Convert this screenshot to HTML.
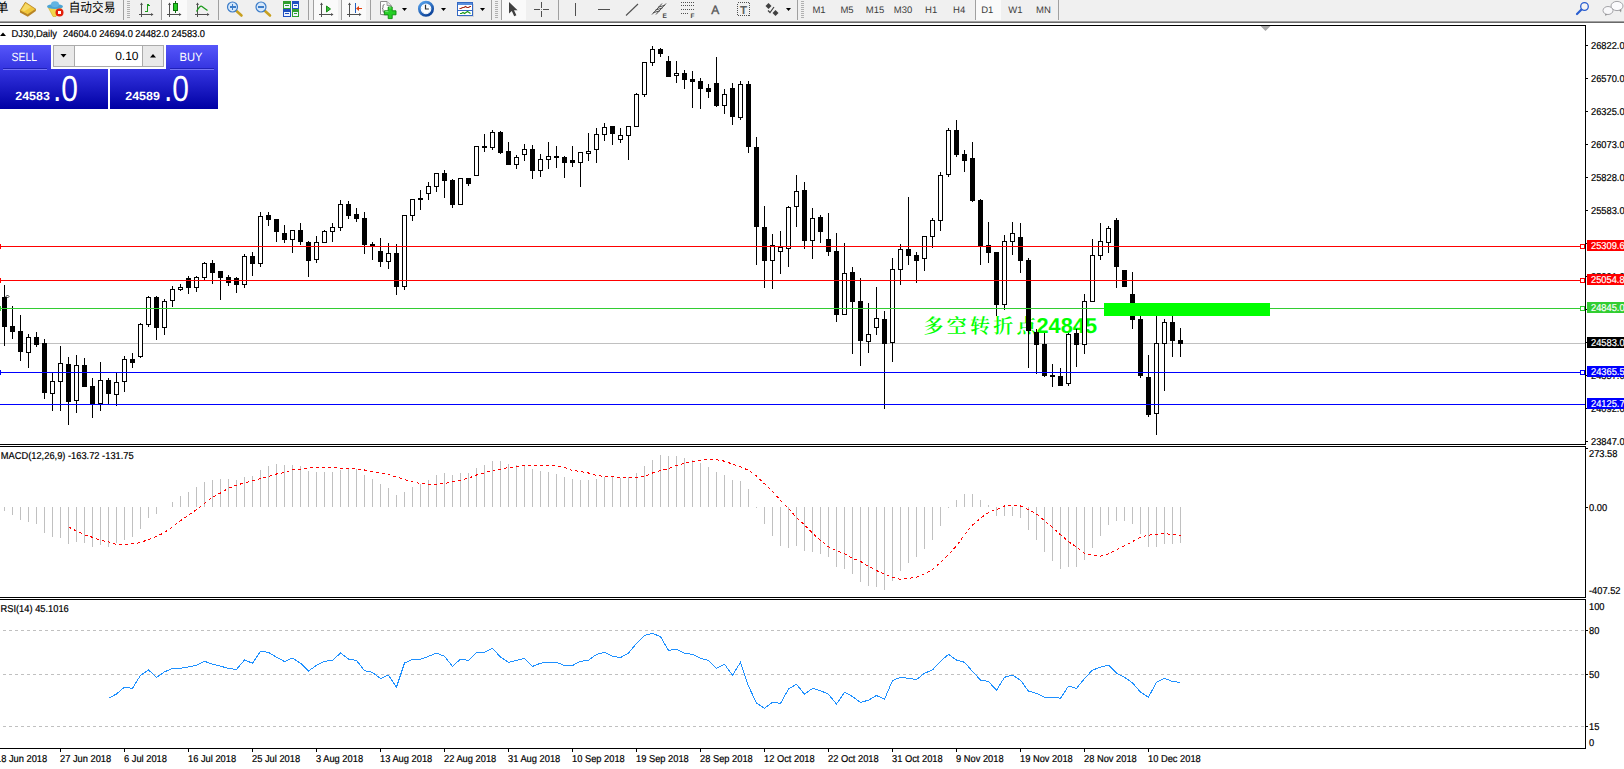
<!DOCTYPE html>
<html><head><meta charset="utf-8"><title>DJ30,Daily</title>
<style>
html,body{margin:0;padding:0;background:#fff;overflow:hidden}
body{width:1624px;height:769px;position:relative}
rect{shape-rendering:crispEdges}
text{text-rendering:geometricPrecision}
svg{position:absolute;left:0;top:0;display:block;font-family:"Liberation Sans",sans-serif}
</style></head><body>
<svg width="1624" height="769" viewBox="0 0 1624 769">
<rect x="0" y="0" width="1624" height="769" fill="#fff"/>
<g id="objtext">
<text x="923.5" y="333" font-size="21.5" fill="#00ff00" font-weight="bold" style="font-family:'Liberation Sans','Noto Serif CJK SC',serif"><tspan font-size="20" font-weight="600" style="font-family:'Noto Serif CJK SC',serif" textLength="113" lengthAdjust="spacing">多空转折点</tspan><tspan x="1036.5" textLength="60.5" lengthAdjust="spacingAndGlyphs">24845</tspan></text>
</g>
<rect x="0" y="343" width="1585" height="1" fill="#c0c0c0"/>
<g id="candles">
<rect x="4" y="285" width="1" height="61" fill="#000"/>
<rect x="2" y="297" width="5" height="30" fill="#000"/>
<rect x="12" y="306" width="1" height="33" fill="#000"/>
<rect x="10" y="326" width="5" height="6" fill="#000"/>
<rect x="20" y="315" width="1" height="46" fill="#000"/>
<rect x="18" y="331" width="5" height="21" fill="#000"/>
<rect x="28" y="334" width="1" height="34" fill="#000"/>
<rect x="26" y="337" width="5" height="16" fill="#000"/>
<rect x="27" y="338" width="3" height="14" fill="#fff"/>
<rect x="36" y="332" width="1" height="15" fill="#000"/>
<rect x="34" y="337" width="5" height="8" fill="#000"/>
<rect x="44" y="339" width="1" height="60" fill="#000"/>
<rect x="42" y="343" width="5" height="50" fill="#000"/>
<rect x="52" y="373" width="1" height="38" fill="#000"/>
<rect x="50" y="381" width="5" height="13" fill="#000"/>
<rect x="51" y="382" width="3" height="11" fill="#fff"/>
<rect x="60" y="346" width="1" height="65" fill="#000"/>
<rect x="58" y="363" width="5" height="19" fill="#000"/>
<rect x="59" y="364" width="3" height="17" fill="#fff"/>
<rect x="68" y="357" width="1" height="68" fill="#000"/>
<rect x="66" y="364" width="5" height="38" fill="#000"/>
<rect x="76" y="355" width="1" height="58" fill="#000"/>
<rect x="74" y="365" width="5" height="36" fill="#000"/>
<rect x="75" y="366" width="3" height="34" fill="#fff"/>
<rect x="84" y="358" width="1" height="29" fill="#000"/>
<rect x="82" y="365" width="5" height="22" fill="#000"/>
<rect x="92" y="378" width="1" height="40" fill="#000"/>
<rect x="90" y="386" width="5" height="18" fill="#000"/>
<rect x="100" y="362" width="1" height="49" fill="#000"/>
<rect x="98" y="380" width="5" height="24" fill="#000"/>
<rect x="99" y="381" width="3" height="22" fill="#fff"/>
<rect x="108" y="378" width="1" height="26" fill="#000"/>
<rect x="106" y="380" width="5" height="14" fill="#000"/>
<rect x="116" y="373" width="1" height="33" fill="#000"/>
<rect x="114" y="382" width="5" height="13" fill="#000"/>
<rect x="115" y="383" width="3" height="11" fill="#fff"/>
<rect x="124" y="356" width="1" height="36" fill="#000"/>
<rect x="122" y="359" width="5" height="23" fill="#000"/>
<rect x="123" y="360" width="3" height="21" fill="#fff"/>
<rect x="132" y="353" width="1" height="15" fill="#000"/>
<rect x="130" y="359" width="5" height="4" fill="#000"/>
<rect x="140" y="323" width="1" height="35" fill="#000"/>
<rect x="138" y="324" width="5" height="33" fill="#000"/>
<rect x="139" y="325" width="3" height="31" fill="#fff"/>
<rect x="148" y="296" width="1" height="31" fill="#000"/>
<rect x="146" y="297" width="5" height="28" fill="#000"/>
<rect x="147" y="298" width="3" height="26" fill="#fff"/>
<rect x="156" y="296" width="1" height="44" fill="#000"/>
<rect x="154" y="297" width="5" height="31" fill="#000"/>
<rect x="164" y="299" width="1" height="36" fill="#000"/>
<rect x="162" y="301" width="5" height="27" fill="#000"/>
<rect x="163" y="302" width="3" height="25" fill="#fff"/>
<rect x="172" y="286" width="1" height="21" fill="#000"/>
<rect x="170" y="289" width="5" height="12" fill="#000"/>
<rect x="171" y="290" width="3" height="10" fill="#fff"/>
<rect x="180" y="284" width="1" height="7" fill="#000"/>
<rect x="178" y="287" width="5" height="3" fill="#000"/>
<rect x="179" y="288" width="3" height="1" fill="#fff"/>
<rect x="188" y="276" width="1" height="18" fill="#000"/>
<rect x="186" y="278" width="5" height="10" fill="#000"/>
<rect x="196" y="276" width="1" height="16" fill="#000"/>
<rect x="194" y="277" width="5" height="11" fill="#000"/>
<rect x="195" y="278" width="3" height="9" fill="#fff"/>
<rect x="204" y="262" width="1" height="18" fill="#000"/>
<rect x="202" y="263" width="5" height="15" fill="#000"/>
<rect x="203" y="264" width="3" height="13" fill="#fff"/>
<rect x="212" y="260" width="1" height="24" fill="#000"/>
<rect x="210" y="263" width="5" height="10" fill="#000"/>
<rect x="220" y="271" width="1" height="29" fill="#000"/>
<rect x="218" y="271" width="5" height="7" fill="#000"/>
<rect x="228" y="275" width="1" height="11" fill="#000"/>
<rect x="226" y="277" width="5" height="6" fill="#000"/>
<rect x="236" y="277" width="1" height="16" fill="#000"/>
<rect x="234" y="278" width="5" height="7" fill="#000"/>
<rect x="244" y="254" width="1" height="34" fill="#000"/>
<rect x="242" y="256" width="5" height="29" fill="#000"/>
<rect x="243" y="257" width="3" height="27" fill="#fff"/>
<rect x="252" y="252" width="1" height="24" fill="#000"/>
<rect x="250" y="256" width="5" height="8" fill="#000"/>
<rect x="260" y="212" width="1" height="55" fill="#000"/>
<rect x="258" y="216" width="5" height="48" fill="#000"/>
<rect x="259" y="217" width="3" height="46" fill="#fff"/>
<rect x="268" y="212" width="1" height="14" fill="#000"/>
<rect x="266" y="215" width="5" height="5" fill="#000"/>
<rect x="276" y="219" width="1" height="23" fill="#000"/>
<rect x="274" y="219" width="5" height="13" fill="#000"/>
<rect x="284" y="225" width="1" height="18" fill="#000"/>
<rect x="282" y="233" width="5" height="7" fill="#000"/>
<rect x="292" y="230" width="1" height="23" fill="#000"/>
<rect x="290" y="230" width="5" height="10" fill="#000"/>
<rect x="291" y="231" width="3" height="8" fill="#fff"/>
<rect x="300" y="223" width="1" height="22" fill="#000"/>
<rect x="298" y="230" width="5" height="12" fill="#000"/>
<rect x="308" y="241" width="1" height="36" fill="#000"/>
<rect x="306" y="242" width="5" height="19" fill="#000"/>
<rect x="316" y="236" width="1" height="27" fill="#000"/>
<rect x="314" y="242" width="5" height="18" fill="#000"/>
<rect x="315" y="243" width="3" height="16" fill="#fff"/>
<rect x="324" y="230" width="1" height="13" fill="#000"/>
<rect x="322" y="231" width="5" height="12" fill="#000"/>
<rect x="323" y="232" width="3" height="10" fill="#fff"/>
<rect x="332" y="223" width="1" height="19" fill="#000"/>
<rect x="330" y="227" width="5" height="5" fill="#000"/>
<rect x="331" y="228" width="3" height="3" fill="#fff"/>
<rect x="340" y="200" width="1" height="31" fill="#000"/>
<rect x="338" y="204" width="5" height="24" fill="#000"/>
<rect x="339" y="205" width="3" height="22" fill="#fff"/>
<rect x="348" y="201" width="1" height="18" fill="#000"/>
<rect x="346" y="204" width="5" height="12" fill="#000"/>
<rect x="356" y="208" width="1" height="14" fill="#000"/>
<rect x="354" y="214" width="5" height="5" fill="#000"/>
<rect x="364" y="212" width="1" height="42" fill="#000"/>
<rect x="362" y="218" width="5" height="27" fill="#000"/>
<rect x="372" y="242" width="1" height="18" fill="#000"/>
<rect x="370" y="244" width="5" height="2" fill="#000"/>
<rect x="380" y="238" width="1" height="29" fill="#000"/>
<rect x="378" y="251" width="5" height="11" fill="#000"/>
<rect x="388" y="243" width="1" height="26" fill="#000"/>
<rect x="386" y="253" width="5" height="9" fill="#000"/>
<rect x="387" y="254" width="3" height="7" fill="#fff"/>
<rect x="396" y="244" width="1" height="51" fill="#000"/>
<rect x="394" y="253" width="5" height="34" fill="#000"/>
<rect x="404" y="215" width="1" height="75" fill="#000"/>
<rect x="402" y="215" width="5" height="72" fill="#000"/>
<rect x="403" y="216" width="3" height="70" fill="#fff"/>
<rect x="412" y="199" width="1" height="22" fill="#000"/>
<rect x="410" y="199" width="5" height="17" fill="#000"/>
<rect x="411" y="200" width="3" height="15" fill="#fff"/>
<rect x="420" y="190" width="1" height="20" fill="#000"/>
<rect x="418" y="198" width="5" height="2" fill="#000"/>
<rect x="428" y="182" width="1" height="18" fill="#000"/>
<rect x="426" y="186" width="5" height="8" fill="#000"/>
<rect x="427" y="187" width="3" height="6" fill="#fff"/>
<rect x="436" y="173" width="1" height="19" fill="#000"/>
<rect x="434" y="173" width="5" height="14" fill="#000"/>
<rect x="435" y="174" width="3" height="12" fill="#fff"/>
<rect x="444" y="170" width="1" height="28" fill="#000"/>
<rect x="442" y="173" width="5" height="8" fill="#000"/>
<rect x="452" y="179" width="1" height="29" fill="#000"/>
<rect x="450" y="180" width="5" height="25" fill="#000"/>
<rect x="460" y="178" width="1" height="27" fill="#000"/>
<rect x="458" y="178" width="5" height="27" fill="#000"/>
<rect x="459" y="179" width="3" height="25" fill="#fff"/>
<rect x="468" y="178" width="1" height="8" fill="#000"/>
<rect x="466" y="178" width="5" height="6" fill="#000"/>
<rect x="476" y="146" width="1" height="30" fill="#000"/>
<rect x="474" y="146" width="5" height="30" fill="#000"/>
<rect x="475" y="147" width="3" height="28" fill="#fff"/>
<rect x="484" y="134" width="1" height="18" fill="#000"/>
<rect x="482" y="146" width="5" height="2" fill="#000"/>
<rect x="492" y="130" width="1" height="20" fill="#000"/>
<rect x="490" y="132" width="5" height="16" fill="#000"/>
<rect x="491" y="133" width="3" height="14" fill="#fff"/>
<rect x="500" y="131" width="1" height="23" fill="#000"/>
<rect x="498" y="132" width="5" height="21" fill="#000"/>
<rect x="508" y="142" width="1" height="23" fill="#000"/>
<rect x="506" y="151" width="5" height="14" fill="#000"/>
<rect x="516" y="155" width="1" height="14" fill="#000"/>
<rect x="514" y="157" width="5" height="8" fill="#000"/>
<rect x="515" y="158" width="3" height="6" fill="#fff"/>
<rect x="524" y="144" width="1" height="17" fill="#000"/>
<rect x="522" y="149" width="5" height="6" fill="#000"/>
<rect x="523" y="150" width="3" height="4" fill="#fff"/>
<rect x="532" y="145" width="1" height="34" fill="#000"/>
<rect x="530" y="149" width="5" height="22" fill="#000"/>
<rect x="540" y="154" width="1" height="23" fill="#000"/>
<rect x="538" y="159" width="5" height="12" fill="#000"/>
<rect x="539" y="160" width="3" height="10" fill="#fff"/>
<rect x="548" y="142" width="1" height="27" fill="#000"/>
<rect x="546" y="156" width="5" height="4" fill="#000"/>
<rect x="547" y="157" width="3" height="2" fill="#fff"/>
<rect x="556" y="146" width="1" height="22" fill="#000"/>
<rect x="554" y="156" width="5" height="2" fill="#000"/>
<rect x="564" y="156" width="1" height="22" fill="#000"/>
<rect x="562" y="157" width="5" height="6" fill="#000"/>
<rect x="572" y="146" width="1" height="21" fill="#000"/>
<rect x="570" y="160" width="5" height="3" fill="#000"/>
<rect x="580" y="152" width="1" height="35" fill="#000"/>
<rect x="578" y="152" width="5" height="11" fill="#000"/>
<rect x="579" y="153" width="3" height="9" fill="#fff"/>
<rect x="588" y="133" width="1" height="28" fill="#000"/>
<rect x="586" y="151" width="5" height="3" fill="#000"/>
<rect x="587" y="152" width="3" height="1" fill="#fff"/>
<rect x="596" y="128" width="1" height="35" fill="#000"/>
<rect x="594" y="134" width="5" height="16" fill="#000"/>
<rect x="595" y="135" width="3" height="14" fill="#fff"/>
<rect x="604" y="123" width="1" height="18" fill="#000"/>
<rect x="602" y="127" width="5" height="8" fill="#000"/>
<rect x="603" y="128" width="3" height="6" fill="#fff"/>
<rect x="612" y="126" width="1" height="19" fill="#000"/>
<rect x="610" y="126" width="5" height="8" fill="#000"/>
<rect x="620" y="128" width="1" height="15" fill="#000"/>
<rect x="618" y="135" width="5" height="5" fill="#000"/>
<rect x="619" y="136" width="3" height="3" fill="#fff"/>
<rect x="628" y="126" width="1" height="34" fill="#000"/>
<rect x="626" y="126" width="5" height="10" fill="#000"/>
<rect x="627" y="127" width="3" height="8" fill="#fff"/>
<rect x="636" y="93" width="1" height="34" fill="#000"/>
<rect x="634" y="94" width="5" height="33" fill="#000"/>
<rect x="635" y="95" width="3" height="31" fill="#fff"/>
<rect x="644" y="62" width="1" height="35" fill="#000"/>
<rect x="642" y="62" width="5" height="33" fill="#000"/>
<rect x="643" y="63" width="3" height="31" fill="#fff"/>
<rect x="652" y="46" width="1" height="20" fill="#000"/>
<rect x="650" y="49" width="5" height="14" fill="#000"/>
<rect x="651" y="50" width="3" height="12" fill="#fff"/>
<rect x="660" y="48" width="1" height="9" fill="#000"/>
<rect x="658" y="49" width="5" height="5" fill="#000"/>
<rect x="668" y="56" width="1" height="21" fill="#000"/>
<rect x="666" y="61" width="5" height="16" fill="#000"/>
<rect x="676" y="61" width="1" height="22" fill="#000"/>
<rect x="674" y="73" width="5" height="3" fill="#000"/>
<rect x="675" y="74" width="3" height="1" fill="#fff"/>
<rect x="684" y="70" width="1" height="19" fill="#000"/>
<rect x="682" y="73" width="5" height="7" fill="#000"/>
<rect x="692" y="71" width="1" height="37" fill="#000"/>
<rect x="690" y="79" width="5" height="3" fill="#000"/>
<rect x="700" y="78" width="1" height="31" fill="#000"/>
<rect x="698" y="81" width="5" height="8" fill="#000"/>
<rect x="708" y="84" width="1" height="14" fill="#000"/>
<rect x="706" y="88" width="5" height="4" fill="#000"/>
<rect x="716" y="57" width="1" height="50" fill="#000"/>
<rect x="714" y="83" width="5" height="23" fill="#000"/>
<rect x="724" y="89" width="1" height="25" fill="#000"/>
<rect x="722" y="94" width="5" height="12" fill="#000"/>
<rect x="723" y="95" width="3" height="10" fill="#fff"/>
<rect x="732" y="83" width="1" height="42" fill="#000"/>
<rect x="730" y="88" width="5" height="29" fill="#000"/>
<rect x="740" y="81" width="1" height="39" fill="#000"/>
<rect x="738" y="84" width="5" height="34" fill="#000"/>
<rect x="739" y="85" width="3" height="32" fill="#fff"/>
<rect x="748" y="81" width="1" height="72" fill="#000"/>
<rect x="746" y="84" width="5" height="63" fill="#000"/>
<rect x="756" y="137" width="1" height="128" fill="#000"/>
<rect x="754" y="147" width="5" height="80" fill="#000"/>
<rect x="764" y="206" width="1" height="82" fill="#000"/>
<rect x="762" y="227" width="5" height="34" fill="#000"/>
<rect x="772" y="234" width="1" height="55" fill="#000"/>
<rect x="770" y="245" width="5" height="16" fill="#000"/>
<rect x="771" y="246" width="3" height="14" fill="#fff"/>
<rect x="780" y="231" width="1" height="43" fill="#000"/>
<rect x="778" y="247" width="5" height="5" fill="#000"/>
<rect x="779" y="248" width="3" height="3" fill="#fff"/>
<rect x="788" y="206" width="1" height="61" fill="#000"/>
<rect x="786" y="207" width="5" height="42" fill="#000"/>
<rect x="787" y="208" width="3" height="40" fill="#fff"/>
<rect x="796" y="175" width="1" height="52" fill="#000"/>
<rect x="794" y="191" width="5" height="16" fill="#000"/>
<rect x="795" y="192" width="3" height="14" fill="#fff"/>
<rect x="804" y="182" width="1" height="67" fill="#000"/>
<rect x="802" y="190" width="5" height="51" fill="#000"/>
<rect x="812" y="208" width="1" height="51" fill="#000"/>
<rect x="810" y="218" width="5" height="23" fill="#000"/>
<rect x="811" y="219" width="3" height="21" fill="#fff"/>
<rect x="820" y="215" width="1" height="28" fill="#000"/>
<rect x="818" y="217" width="5" height="15" fill="#000"/>
<rect x="828" y="213" width="1" height="43" fill="#000"/>
<rect x="826" y="239" width="5" height="13" fill="#000"/>
<rect x="836" y="233" width="1" height="89" fill="#000"/>
<rect x="834" y="251" width="5" height="64" fill="#000"/>
<rect x="844" y="243" width="1" height="72" fill="#000"/>
<rect x="842" y="273" width="5" height="42" fill="#000"/>
<rect x="843" y="274" width="3" height="40" fill="#fff"/>
<rect x="852" y="267" width="1" height="87" fill="#000"/>
<rect x="850" y="272" width="5" height="30" fill="#000"/>
<rect x="860" y="278" width="1" height="88" fill="#000"/>
<rect x="858" y="301" width="5" height="40" fill="#000"/>
<rect x="868" y="303" width="1" height="50" fill="#000"/>
<rect x="866" y="334" width="5" height="8" fill="#000"/>
<rect x="867" y="335" width="3" height="6" fill="#fff"/>
<rect x="876" y="287" width="1" height="48" fill="#000"/>
<rect x="874" y="318" width="5" height="10" fill="#000"/>
<rect x="875" y="319" width="3" height="8" fill="#fff"/>
<rect x="884" y="311" width="1" height="98" fill="#000"/>
<rect x="882" y="319" width="5" height="25" fill="#000"/>
<rect x="892" y="258" width="1" height="104" fill="#000"/>
<rect x="890" y="269" width="5" height="74" fill="#000"/>
<rect x="891" y="270" width="3" height="72" fill="#fff"/>
<rect x="900" y="244" width="1" height="41" fill="#000"/>
<rect x="898" y="249" width="5" height="21" fill="#000"/>
<rect x="899" y="250" width="3" height="19" fill="#fff"/>
<rect x="908" y="197" width="1" height="68" fill="#000"/>
<rect x="906" y="249" width="5" height="7" fill="#000"/>
<rect x="916" y="252" width="1" height="31" fill="#000"/>
<rect x="914" y="255" width="5" height="6" fill="#000"/>
<rect x="924" y="236" width="1" height="35" fill="#000"/>
<rect x="922" y="236" width="5" height="23" fill="#000"/>
<rect x="923" y="237" width="3" height="21" fill="#fff"/>
<rect x="932" y="218" width="1" height="30" fill="#000"/>
<rect x="930" y="220" width="5" height="17" fill="#000"/>
<rect x="931" y="221" width="3" height="15" fill="#fff"/>
<rect x="940" y="172" width="1" height="59" fill="#000"/>
<rect x="938" y="175" width="5" height="46" fill="#000"/>
<rect x="939" y="176" width="3" height="44" fill="#fff"/>
<rect x="948" y="128" width="1" height="49" fill="#000"/>
<rect x="946" y="130" width="5" height="45" fill="#000"/>
<rect x="947" y="131" width="3" height="43" fill="#fff"/>
<rect x="956" y="120" width="1" height="37" fill="#000"/>
<rect x="954" y="130" width="5" height="25" fill="#000"/>
<rect x="964" y="150" width="1" height="22" fill="#000"/>
<rect x="962" y="154" width="5" height="7" fill="#000"/>
<rect x="972" y="142" width="1" height="60" fill="#000"/>
<rect x="970" y="158" width="5" height="43" fill="#000"/>
<rect x="980" y="199" width="1" height="66" fill="#000"/>
<rect x="978" y="200" width="5" height="47" fill="#000"/>
<rect x="988" y="222" width="1" height="41" fill="#000"/>
<rect x="986" y="245" width="5" height="8" fill="#000"/>
<rect x="996" y="252" width="1" height="64" fill="#000"/>
<rect x="994" y="252" width="5" height="53" fill="#000"/>
<rect x="1004" y="235" width="1" height="75" fill="#000"/>
<rect x="1002" y="241" width="5" height="64" fill="#000"/>
<rect x="1003" y="242" width="3" height="62" fill="#fff"/>
<rect x="1012" y="222" width="1" height="33" fill="#000"/>
<rect x="1010" y="233" width="5" height="9" fill="#000"/>
<rect x="1011" y="234" width="3" height="7" fill="#fff"/>
<rect x="1020" y="223" width="1" height="50" fill="#000"/>
<rect x="1018" y="237" width="5" height="24" fill="#000"/>
<rect x="1028" y="258" width="1" height="110" fill="#000"/>
<rect x="1026" y="260" width="5" height="71" fill="#000"/>
<rect x="1036" y="329" width="1" height="45" fill="#000"/>
<rect x="1034" y="332" width="5" height="13" fill="#000"/>
<rect x="1044" y="333" width="1" height="44" fill="#000"/>
<rect x="1042" y="344" width="5" height="32" fill="#000"/>
<rect x="1052" y="364" width="1" height="23" fill="#000"/>
<rect x="1050" y="375" width="5" height="2" fill="#000"/>
<rect x="1060" y="368" width="1" height="18" fill="#000"/>
<rect x="1058" y="376" width="5" height="10" fill="#000"/>
<rect x="1068" y="333" width="1" height="53" fill="#000"/>
<rect x="1066" y="334" width="5" height="50" fill="#000"/>
<rect x="1067" y="335" width="3" height="48" fill="#fff"/>
<rect x="1076" y="329" width="1" height="38" fill="#000"/>
<rect x="1074" y="333" width="5" height="12" fill="#000"/>
<rect x="1084" y="294" width="1" height="60" fill="#000"/>
<rect x="1082" y="301" width="5" height="44" fill="#000"/>
<rect x="1083" y="302" width="3" height="42" fill="#fff"/>
<rect x="1092" y="239" width="1" height="63" fill="#000"/>
<rect x="1090" y="255" width="5" height="47" fill="#000"/>
<rect x="1091" y="256" width="3" height="45" fill="#fff"/>
<rect x="1100" y="223" width="1" height="37" fill="#000"/>
<rect x="1098" y="241" width="5" height="15" fill="#000"/>
<rect x="1099" y="242" width="3" height="13" fill="#fff"/>
<rect x="1108" y="226" width="1" height="27" fill="#000"/>
<rect x="1106" y="228" width="5" height="15" fill="#000"/>
<rect x="1107" y="229" width="3" height="13" fill="#fff"/>
<rect x="1116" y="218" width="1" height="70" fill="#000"/>
<rect x="1114" y="220" width="5" height="47" fill="#000"/>
<rect x="1124" y="270" width="1" height="17" fill="#000"/>
<rect x="1122" y="270" width="5" height="17" fill="#000"/>
<rect x="1132" y="272" width="1" height="57" fill="#000"/>
<rect x="1130" y="294" width="5" height="26" fill="#000"/>
<rect x="1140" y="316" width="1" height="62" fill="#000"/>
<rect x="1138" y="319" width="5" height="57" fill="#000"/>
<rect x="1148" y="355" width="1" height="62" fill="#000"/>
<rect x="1146" y="377" width="5" height="38" fill="#000"/>
<rect x="1156" y="315" width="1" height="120" fill="#000"/>
<rect x="1154" y="343" width="5" height="71" fill="#000"/>
<rect x="1155" y="344" width="3" height="69" fill="#fff"/>
<rect x="1164" y="319" width="1" height="72" fill="#000"/>
<rect x="1162" y="322" width="5" height="22" fill="#000"/>
<rect x="1163" y="323" width="3" height="20" fill="#fff"/>
<rect x="1172" y="315" width="1" height="42" fill="#000"/>
<rect x="1170" y="322" width="5" height="19" fill="#000"/>
<rect x="1180" y="328" width="1" height="29" fill="#000"/>
<rect x="1178" y="340" width="5" height="4" fill="#000"/>
</g>
<rect x="0" y="246" width="1585" height="1" fill="#ff0000"/>
<rect x="1580" y="244" width="5" height="5" fill="#ff0000"/>
<rect x="1581" y="245" width="3" height="3" fill="#fff"/>
<rect x="0" y="244" width="1" height="5" fill="#ff0000"/>
<rect x="0" y="280" width="1585" height="1" fill="#ff0000"/>
<rect x="1580" y="278" width="5" height="5" fill="#ff0000"/>
<rect x="1581" y="279" width="3" height="3" fill="#fff"/>
<rect x="0" y="278" width="1" height="5" fill="#ff0000"/>
<rect x="0" y="308" width="1585" height="1" fill="#32cd32"/>
<rect x="1580" y="306" width="5" height="5" fill="#32cd32"/>
<rect x="1581" y="307" width="3" height="3" fill="#fff"/>
<rect x="0" y="306" width="1" height="5" fill="#32cd32"/>
<rect x="0" y="372" width="1585" height="1" fill="#0000ff"/>
<rect x="1580" y="370" width="5" height="5" fill="#0000ff"/>
<rect x="1581" y="371" width="3" height="3" fill="#fff"/>
<rect x="0" y="370" width="1" height="5" fill="#0000ff"/>
<rect x="0" y="404" width="1585" height="1" fill="#0000ff"/>
<polygon points="6,296.5 7.5,295 9,296.5 7.5,298" fill="#fff" stroke="#000" stroke-width="0.8"/>
<rect x="1104" y="303" width="166" height="13" fill="#00ff00"/>
<polygon points="1260.5,26 1270.5,26 1265.5,31" fill="#a9a9a9"/>
<rect x="0" y="25" width="1586" height="1" fill="#000"/>
<rect x="1585" y="25" width="1" height="420" fill="#000"/>
<rect x="0" y="444" width="1586" height="1" fill="#000"/>
<rect x="0" y="446" width="1586" height="1" fill="#000"/>
<rect x="1585" y="446" width="1" height="152" fill="#000"/>
<rect x="0" y="597" width="1586" height="1" fill="#000"/>
<rect x="0" y="599" width="1586" height="1" fill="#000"/>
<rect x="1585" y="599" width="1" height="150" fill="#000"/>
<rect x="0" y="748" width="1586" height="1" fill="#000"/>
<rect x="1586" y="45" width="2" height="1" fill="#000"/>
<text transform="translate(1591 49) scale(.93 1)" font-size="10" fill="#000" stroke="#000" stroke-width="0.2" text-anchor="start" font-weight="normal">26822.0</text>
<rect x="1586" y="78" width="2" height="1" fill="#000"/>
<text transform="translate(1591 82) scale(.93 1)" font-size="10" fill="#000" stroke="#000" stroke-width="0.2" text-anchor="start" font-weight="normal">26570.0</text>
<rect x="1586" y="111" width="2" height="1" fill="#000"/>
<text transform="translate(1591 115) scale(.93 1)" font-size="10" fill="#000" stroke="#000" stroke-width="0.2" text-anchor="start" font-weight="normal">26325.0</text>
<rect x="1586" y="144" width="2" height="1" fill="#000"/>
<text transform="translate(1591 148) scale(.93 1)" font-size="10" fill="#000" stroke="#000" stroke-width="0.2" text-anchor="start" font-weight="normal">26073.0</text>
<rect x="1586" y="177" width="2" height="1" fill="#000"/>
<text transform="translate(1591 181) scale(.93 1)" font-size="10" fill="#000" stroke="#000" stroke-width="0.2" text-anchor="start" font-weight="normal">25828.0</text>
<rect x="1586" y="210" width="2" height="1" fill="#000"/>
<text transform="translate(1591 214) scale(.93 1)" font-size="10" fill="#000" stroke="#000" stroke-width="0.2" text-anchor="start" font-weight="normal">25583.0</text>
<rect x="1586" y="243" width="2" height="1" fill="#000"/>
<rect x="1586" y="276" width="2" height="1" fill="#000"/>
<text transform="translate(1591 280) scale(.93 1)" font-size="10" fill="#000" stroke="#000" stroke-width="0.2" text-anchor="start" font-weight="normal">25091.0</text>
<rect x="1586" y="309" width="2" height="1" fill="#000"/>
<rect x="1586" y="342" width="2" height="1" fill="#000"/>
<rect x="1586" y="375" width="2" height="1" fill="#000"/>
<text transform="translate(1591 379) scale(.93 1)" font-size="10" fill="#000" stroke="#000" stroke-width="0.2" text-anchor="start" font-weight="normal">24357.0</text>
<rect x="1586" y="408" width="2" height="1" fill="#000"/>
<text transform="translate(1591 412) scale(.93 1)" font-size="10" fill="#000" stroke="#000" stroke-width="0.2" text-anchor="start" font-weight="normal">24092.0</text>
<rect x="1586" y="441" width="2" height="1" fill="#000"/>
<text transform="translate(1591 445) scale(.93 1)" font-size="10" fill="#000" stroke="#000" stroke-width="0.2" text-anchor="start" font-weight="normal">23847.0</text>
<rect x="1587" y="240" width="37" height="11" fill="#ff0000"/>
<text transform="translate(1591 249) scale(.93 1)" font-size="10" fill="#fff" stroke="#fff" stroke-width="0.2" text-anchor="start" font-weight="normal">25309.6</text>
<rect x="1587" y="274" width="37" height="11" fill="#ff0000"/>
<text transform="translate(1591 283) scale(.93 1)" font-size="10" fill="#fff" stroke="#fff" stroke-width="0.2" text-anchor="start" font-weight="normal">25054.8</text>
<rect x="1587" y="302" width="37" height="11" fill="#32cd32"/>
<text transform="translate(1591 311) scale(.93 1)" font-size="10" fill="#fff" stroke="#fff" stroke-width="0.2" text-anchor="start" font-weight="normal">24845.0</text>
<rect x="1587" y="366" width="37" height="11" fill="#0000ff"/>
<text transform="translate(1591 375) scale(.93 1)" font-size="10" fill="#fff" stroke="#fff" stroke-width="0.2" text-anchor="start" font-weight="normal">24365.5</text>
<rect x="1587" y="398" width="37" height="11" fill="#0000ff"/>
<text transform="translate(1591 407) scale(.93 1)" font-size="10" fill="#fff" stroke="#fff" stroke-width="0.2" text-anchor="start" font-weight="normal">24125.7</text>
<rect x="1587" y="337" width="37" height="11" fill="#000"/>
<text transform="translate(1591 346) scale(.93 1)" font-size="10" fill="#fff" stroke="#fff" stroke-width="0.2" text-anchor="start" font-weight="normal">24583.0</text>
<g id="macd">
<rect x="4" y="507" width="1" height="4" fill="#c0c0c0"/>
<rect x="12" y="507" width="1" height="8" fill="#c0c0c0"/>
<rect x="20" y="507" width="1" height="13" fill="#c0c0c0"/>
<rect x="28" y="507" width="1" height="15" fill="#c0c0c0"/>
<rect x="36" y="507" width="1" height="17" fill="#c0c0c0"/>
<rect x="44" y="507" width="1" height="26" fill="#c0c0c0"/>
<rect x="52" y="507" width="1" height="30" fill="#c0c0c0"/>
<rect x="60" y="507" width="1" height="31" fill="#c0c0c0"/>
<rect x="68" y="507" width="1" height="37" fill="#c0c0c0"/>
<rect x="76" y="507" width="1" height="35" fill="#c0c0c0"/>
<rect x="84" y="507" width="1" height="36" fill="#c0c0c0"/>
<rect x="92" y="507" width="1" height="40" fill="#c0c0c0"/>
<rect x="100" y="507" width="1" height="38" fill="#c0c0c0"/>
<rect x="108" y="507" width="1" height="40" fill="#c0c0c0"/>
<rect x="116" y="507" width="1" height="36" fill="#c0c0c0"/>
<rect x="124" y="507" width="1" height="33" fill="#c0c0c0"/>
<rect x="132" y="507" width="1" height="30" fill="#c0c0c0"/>
<rect x="140" y="507" width="1" height="22" fill="#c0c0c0"/>
<rect x="148" y="507" width="1" height="11" fill="#c0c0c0"/>
<rect x="156" y="507" width="1" height="7" fill="#c0c0c0"/>
<rect x="172" y="502" width="1" height="5" fill="#c0c0c0"/>
<rect x="180" y="496" width="1" height="11" fill="#c0c0c0"/>
<rect x="188" y="492" width="1" height="15" fill="#c0c0c0"/>
<rect x="196" y="487" width="1" height="20" fill="#c0c0c0"/>
<rect x="204" y="482" width="1" height="25" fill="#c0c0c0"/>
<rect x="212" y="480" width="1" height="27" fill="#c0c0c0"/>
<rect x="220" y="479" width="1" height="28" fill="#c0c0c0"/>
<rect x="228" y="479" width="1" height="28" fill="#c0c0c0"/>
<rect x="236" y="480" width="1" height="27" fill="#c0c0c0"/>
<rect x="244" y="477" width="1" height="30" fill="#c0c0c0"/>
<rect x="252" y="476" width="1" height="31" fill="#c0c0c0"/>
<rect x="260" y="470" width="1" height="37" fill="#c0c0c0"/>
<rect x="268" y="466" width="1" height="41" fill="#c0c0c0"/>
<rect x="276" y="464" width="1" height="43" fill="#c0c0c0"/>
<rect x="284" y="465" width="1" height="42" fill="#c0c0c0"/>
<rect x="292" y="465" width="1" height="42" fill="#c0c0c0"/>
<rect x="300" y="466" width="1" height="41" fill="#c0c0c0"/>
<rect x="308" y="471" width="1" height="36" fill="#c0c0c0"/>
<rect x="316" y="472" width="1" height="35" fill="#c0c0c0"/>
<rect x="324" y="472" width="1" height="35" fill="#c0c0c0"/>
<rect x="332" y="472" width="1" height="35" fill="#c0c0c0"/>
<rect x="340" y="470" width="1" height="37" fill="#c0c0c0"/>
<rect x="348" y="469" width="1" height="38" fill="#c0c0c0"/>
<rect x="356" y="469" width="1" height="38" fill="#c0c0c0"/>
<rect x="364" y="475" width="1" height="32" fill="#c0c0c0"/>
<rect x="372" y="479" width="1" height="28" fill="#c0c0c0"/>
<rect x="380" y="484" width="1" height="23" fill="#c0c0c0"/>
<rect x="388" y="488" width="1" height="19" fill="#c0c0c0"/>
<rect x="396" y="495" width="1" height="12" fill="#c0c0c0"/>
<rect x="404" y="492" width="1" height="15" fill="#c0c0c0"/>
<rect x="412" y="487" width="1" height="20" fill="#c0c0c0"/>
<rect x="420" y="484" width="1" height="23" fill="#c0c0c0"/>
<rect x="428" y="480" width="1" height="27" fill="#c0c0c0"/>
<rect x="436" y="475" width="1" height="32" fill="#c0c0c0"/>
<rect x="444" y="473" width="1" height="34" fill="#c0c0c0"/>
<rect x="452" y="475" width="1" height="32" fill="#c0c0c0"/>
<rect x="460" y="473" width="1" height="34" fill="#c0c0c0"/>
<rect x="468" y="473" width="1" height="34" fill="#c0c0c0"/>
<rect x="476" y="468" width="1" height="39" fill="#c0c0c0"/>
<rect x="484" y="465" width="1" height="42" fill="#c0c0c0"/>
<rect x="492" y="461" width="1" height="46" fill="#c0c0c0"/>
<rect x="500" y="461" width="1" height="46" fill="#c0c0c0"/>
<rect x="508" y="464" width="1" height="43" fill="#c0c0c0"/>
<rect x="516" y="465" width="1" height="42" fill="#c0c0c0"/>
<rect x="524" y="466" width="1" height="41" fill="#c0c0c0"/>
<rect x="532" y="469" width="1" height="38" fill="#c0c0c0"/>
<rect x="540" y="471" width="1" height="36" fill="#c0c0c0"/>
<rect x="548" y="472" width="1" height="35" fill="#c0c0c0"/>
<rect x="556" y="474" width="1" height="33" fill="#c0c0c0"/>
<rect x="564" y="477" width="1" height="30" fill="#c0c0c0"/>
<rect x="572" y="479" width="1" height="28" fill="#c0c0c0"/>
<rect x="580" y="480" width="1" height="27" fill="#c0c0c0"/>
<rect x="588" y="480" width="1" height="27" fill="#c0c0c0"/>
<rect x="596" y="479" width="1" height="28" fill="#c0c0c0"/>
<rect x="604" y="477" width="1" height="30" fill="#c0c0c0"/>
<rect x="612" y="477" width="1" height="30" fill="#c0c0c0"/>
<rect x="620" y="478" width="1" height="29" fill="#c0c0c0"/>
<rect x="628" y="477" width="1" height="30" fill="#c0c0c0"/>
<rect x="636" y="473" width="1" height="34" fill="#c0c0c0"/>
<rect x="644" y="466" width="1" height="41" fill="#c0c0c0"/>
<rect x="652" y="460" width="1" height="47" fill="#c0c0c0"/>
<rect x="660" y="455" width="1" height="52" fill="#c0c0c0"/>
<rect x="668" y="456" width="1" height="51" fill="#c0c0c0"/>
<rect x="676" y="456" width="1" height="51" fill="#c0c0c0"/>
<rect x="684" y="458" width="1" height="49" fill="#c0c0c0"/>
<rect x="692" y="460" width="1" height="47" fill="#c0c0c0"/>
<rect x="700" y="463" width="1" height="44" fill="#c0c0c0"/>
<rect x="708" y="467" width="1" height="40" fill="#c0c0c0"/>
<rect x="716" y="472" width="1" height="35" fill="#c0c0c0"/>
<rect x="724" y="475" width="1" height="32" fill="#c0c0c0"/>
<rect x="732" y="480" width="1" height="27" fill="#c0c0c0"/>
<rect x="740" y="481" width="1" height="26" fill="#c0c0c0"/>
<rect x="748" y="489" width="1" height="18" fill="#c0c0c0"/>
<rect x="756" y="507" width="1" height="1" fill="#c0c0c0"/>
<rect x="764" y="507" width="1" height="17" fill="#c0c0c0"/>
<rect x="772" y="507" width="1" height="29" fill="#c0c0c0"/>
<rect x="780" y="507" width="1" height="39" fill="#c0c0c0"/>
<rect x="788" y="507" width="1" height="41" fill="#c0c0c0"/>
<rect x="796" y="507" width="1" height="39" fill="#c0c0c0"/>
<rect x="804" y="507" width="1" height="44" fill="#c0c0c0"/>
<rect x="812" y="507" width="1" height="45" fill="#c0c0c0"/>
<rect x="820" y="507" width="1" height="47" fill="#c0c0c0"/>
<rect x="828" y="507" width="1" height="50" fill="#c0c0c0"/>
<rect x="836" y="507" width="1" height="60" fill="#c0c0c0"/>
<rect x="844" y="507" width="1" height="62" fill="#c0c0c0"/>
<rect x="852" y="507" width="1" height="67" fill="#c0c0c0"/>
<rect x="860" y="507" width="1" height="75" fill="#c0c0c0"/>
<rect x="868" y="507" width="1" height="79" fill="#c0c0c0"/>
<rect x="876" y="507" width="1" height="80" fill="#c0c0c0"/>
<rect x="884" y="507" width="1" height="83" fill="#c0c0c0"/>
<rect x="892" y="507" width="1" height="74" fill="#c0c0c0"/>
<rect x="900" y="507" width="1" height="64" fill="#c0c0c0"/>
<rect x="908" y="507" width="1" height="56" fill="#c0c0c0"/>
<rect x="916" y="507" width="1" height="50" fill="#c0c0c0"/>
<rect x="924" y="507" width="1" height="42" fill="#c0c0c0"/>
<rect x="932" y="507" width="1" height="33" fill="#c0c0c0"/>
<rect x="940" y="507" width="1" height="19" fill="#c0c0c0"/>
<rect x="948" y="507" width="1" height="1" fill="#c0c0c0"/>
<rect x="956" y="500" width="1" height="7" fill="#c0c0c0"/>
<rect x="964" y="494" width="1" height="13" fill="#c0c0c0"/>
<rect x="972" y="494" width="1" height="13" fill="#c0c0c0"/>
<rect x="980" y="500" width="1" height="7" fill="#c0c0c0"/>
<rect x="988" y="505" width="1" height="2" fill="#c0c0c0"/>
<rect x="996" y="507" width="1" height="9" fill="#c0c0c0"/>
<rect x="1004" y="507" width="1" height="9" fill="#c0c0c0"/>
<rect x="1012" y="507" width="1" height="9" fill="#c0c0c0"/>
<rect x="1020" y="507" width="1" height="11" fill="#c0c0c0"/>
<rect x="1028" y="507" width="1" height="23" fill="#c0c0c0"/>
<rect x="1036" y="507" width="1" height="33" fill="#c0c0c0"/>
<rect x="1044" y="507" width="1" height="45" fill="#c0c0c0"/>
<rect x="1052" y="507" width="1" height="54" fill="#c0c0c0"/>
<rect x="1060" y="507" width="1" height="62" fill="#c0c0c0"/>
<rect x="1068" y="507" width="1" height="60" fill="#c0c0c0"/>
<rect x="1076" y="507" width="1" height="60" fill="#c0c0c0"/>
<rect x="1084" y="507" width="1" height="53" fill="#c0c0c0"/>
<rect x="1092" y="507" width="1" height="41" fill="#c0c0c0"/>
<rect x="1100" y="507" width="1" height="29" fill="#c0c0c0"/>
<rect x="1108" y="507" width="1" height="18" fill="#c0c0c0"/>
<rect x="1116" y="507" width="1" height="14" fill="#c0c0c0"/>
<rect x="1124" y="507" width="1" height="14" fill="#c0c0c0"/>
<rect x="1132" y="507" width="1" height="17" fill="#c0c0c0"/>
<rect x="1140" y="507" width="1" height="27" fill="#c0c0c0"/>
<rect x="1148" y="507" width="1" height="40" fill="#c0c0c0"/>
<rect x="1156" y="507" width="1" height="40" fill="#c0c0c0"/>
<rect x="1164" y="507" width="1" height="37" fill="#c0c0c0"/>
<rect x="1172" y="507" width="1" height="37" fill="#c0c0c0"/>
<rect x="1180" y="507" width="1" height="36" fill="#c0c0c0"/>
<polyline points="68.5,526.9 76.5,531.1 84.5,534.8 92.5,537.3 100.5,540.5 108.5,541.7 116.5,544.4 124.5,544.4 132.5,543.9 140.5,542.5 148.5,539.5 156.5,536.6 164.5,532.4 172.5,526.7 180.5,520.8 188.5,515.1 196.5,509.7 204.5,503.5 212.5,497.1 220.5,493.0 228.5,488.3 236.5,485.1 244.5,482.9 252.5,480.6 260.5,478.7 268.5,476.5 276.5,474.0 284.5,472.5 292.5,470.0 300.5,469.1 308.5,468.1 316.5,467.6 324.5,467.6 332.5,467.6 340.5,468.3 348.5,468.6 356.5,469.1 364.5,470.0 372.5,471.5 380.5,473.3 388.5,474.5 396.5,476.9 404.5,479.4 412.5,481.9 420.5,483.6 428.5,484.3 436.5,484.3 444.5,483.6 452.5,481.9 460.5,480.1 468.5,478.2 476.5,475.0 484.5,472.8 492.5,470.5 500.5,469.1 508.5,467.6 516.5,466.6 524.5,465.6 532.5,465.4 540.5,465.4 548.5,465.4 556.5,466.1 564.5,467.6 572.5,470.5 580.5,471.5 588.5,473.0 596.5,475.5 604.5,476.5 612.5,476.7 620.5,477.4 628.5,477.4 636.5,477.4 644.5,476.5 652.5,473.0 660.5,470.5 668.5,468.6 676.5,465.6 684.5,463.2 692.5,461.7 700.5,460.2 708.5,459.5 716.5,459.7 724.5,461.2 732.5,464.1 740.5,466.6 748.5,470.5 756.5,476.0 764.5,483.8 772.5,491.2 780.5,500.3 788.5,508.5 796.5,517.6 804.5,525.0 812.5,533.1 820.5,540.5 828.5,546.7 836.5,550.8 844.5,553.8 852.5,558.2 860.5,561.4 868.5,566.4 876.5,570.5 884.5,574.2 892.5,577.4 900.5,579.4 908.5,578.4 916.5,577.2 924.5,574.2 932.5,569.3 940.5,562.7 948.5,554.5 956.5,545.9 964.5,534.8 972.5,525.0 980.5,518.3 988.5,512.4 996.5,509.5 1004.5,506.0 1012.5,505.3 1020.5,506.0 1028.5,509.5 1036.5,513.9 1044.5,520.8 1052.5,527.4 1060.5,534.8 1068.5,541.5 1076.5,547.1 1084.5,553.3 1092.5,555.3 1100.5,556.3 1108.5,553.8 1116.5,549.6 1124.5,545.9 1132.5,541.5 1140.5,537.3 1148.5,535.1 1156.5,534.6 1164.5,533.6 1172.5,534.6 1180.5,535.6" fill="none" stroke="#ff0000" stroke-width="1" stroke-dasharray="3 3" shape-rendering="crispEdges"/>
</g>
<text transform="translate(0.8 459) scale(.93 1)" font-size="10" fill="#000" stroke="#000" stroke-width="0.2" text-anchor="start" font-weight="normal">MACD(12,26,9) -163.72 -131.75</text>
<rect x="1586" y="448" width="2" height="1" fill="#000"/>
<text transform="translate(1589 456.5) scale(.93 1)" font-size="10" fill="#000" stroke="#000" stroke-width="0.2" text-anchor="start" font-weight="normal">273.58</text>
<rect x="1586" y="507" width="2" height="1" fill="#000"/>
<text transform="translate(1589 511) scale(.93 1)" font-size="10" fill="#000" stroke="#000" stroke-width="0.2" text-anchor="start" font-weight="normal">0.00</text>
<text transform="translate(1589 594) scale(.93 1)" font-size="10" fill="#000" stroke="#000" stroke-width="0.2" text-anchor="start" font-weight="normal">-407.52</text>
<line x1="3" y1="630.5" x2="1585" y2="630.5" stroke="#c0c0c0" stroke-width="1" stroke-dasharray="3 3"/>
<rect x="1586" y="630" width="2" height="1" fill="#000"/>
<line x1="3" y1="674.5" x2="1585" y2="674.5" stroke="#c0c0c0" stroke-width="1" stroke-dasharray="3 3"/>
<rect x="1586" y="674" width="2" height="1" fill="#000"/>
<line x1="3" y1="726.5" x2="1585" y2="726.5" stroke="#c0c0c0" stroke-width="1" stroke-dasharray="3 3"/>
<rect x="1586" y="726" width="2" height="1" fill="#000"/>
<polyline points="108.5,698.2 116.5,694.0 124.5,687.1 132.5,688.4 140.5,675.3 148.5,669.9 156.5,677.3 164.5,671.9 172.5,668.4 180.5,668.2 188.5,666.9 196.5,665.2 204.5,661.3 212.5,664.2 220.5,666.2 228.5,668.4 236.5,669.4 244.5,660.0 252.5,663.2 260.5,651.2 268.5,652.4 276.5,657.1 284.5,661.5 292.5,658.1 300.5,663.2 308.5,671.1 316.5,665.2 324.5,661.3 332.5,660.3 340.5,653.1 348.5,659.1 356.5,660.5 364.5,670.6 372.5,672.4 380.5,678.5 388.5,675.1 396.5,687.1 404.5,663.0 412.5,659.3 420.5,659.3 428.5,656.3 436.5,653.1 444.5,656.3 452.5,666.4 460.5,659.1 468.5,660.5 476.5,652.4 484.5,652.4 492.5,648.2 500.5,657.1 508.5,662.3 516.5,660.3 524.5,658.3 532.5,666.4 540.5,663.2 548.5,662.3 556.5,662.3 564.5,665.5 572.5,665.5 580.5,661.3 588.5,660.3 596.5,654.4 604.5,652.4 612.5,656.3 620.5,657.6 628.5,653.1 636.5,643.3 644.5,635.4 652.5,633.4 660.5,636.6 668.5,650.4 676.5,649.2 684.5,653.1 692.5,654.4 700.5,658.3 708.5,660.3 716.5,668.4 724.5,664.2 732.5,675.3 740.5,662.3 748.5,686.1 756.5,703.1 764.5,708.3 772.5,702.2 780.5,703.4 788.5,689.1 796.5,684.2 804.5,694.3 812.5,688.4 820.5,690.6 828.5,694.3 836.5,704.1 844.5,692.3 852.5,696.5 860.5,702.4 868.5,700.2 876.5,695.5 884.5,699.2 892.5,680.5 900.5,677.3 908.5,678.3 916.5,679.5 924.5,673.3 932.5,669.9 940.5,661.3 948.5,654.4 956.5,660.0 964.5,662.3 972.5,671.4 980.5,680.0 988.5,681.5 996.5,690.3 1004.5,677.3 1012.5,675.1 1020.5,680.2 1028.5,691.1 1036.5,693.3 1044.5,697.2 1052.5,697.2 1060.5,698.2 1068.5,686.1 1076.5,688.4 1084.5,678.5 1092.5,670.1 1100.5,667.2 1108.5,665.2 1116.5,673.1 1124.5,677.3 1132.5,682.9 1140.5,692.1 1148.5,697.2 1156.5,682.2 1164.5,678.3 1172.5,681.5 1180.5,682.5" fill="none" stroke="#1e90ff" stroke-width="1" shape-rendering="crispEdges"/>
<text transform="translate(0.5 612) scale(.93 1)" font-size="10" fill="#000" stroke="#000" stroke-width="0.2" text-anchor="start" font-weight="normal">RSI(14) 45.1016</text>
<text transform="translate(1589 610) scale(.93 1)" font-size="10" fill="#000" stroke="#000" stroke-width="0.2" text-anchor="start" font-weight="normal">100</text>
<text transform="translate(1589 634) scale(.93 1)" font-size="10" fill="#000" stroke="#000" stroke-width="0.2" text-anchor="start" font-weight="normal">80</text>
<text transform="translate(1589 678) scale(.93 1)" font-size="10" fill="#000" stroke="#000" stroke-width="0.2" text-anchor="start" font-weight="normal">50</text>
<text transform="translate(1589 730) scale(.93 1)" font-size="10" fill="#000" stroke="#000" stroke-width="0.2" text-anchor="start" font-weight="normal">15</text>
<text transform="translate(1589 746) scale(.93 1)" font-size="10" fill="#000" stroke="#000" stroke-width="0.2" text-anchor="start" font-weight="normal">0</text>
<rect x="-4" y="749" width="1" height="3" fill="#000"/>
<text transform="translate(-4 762) scale(.93 1)" font-size="10" fill="#000" stroke="#000" stroke-width="0.2" text-anchor="start" font-weight="normal">18 Jun 2018</text>
<rect x="60" y="749" width="1" height="3" fill="#000"/>
<text transform="translate(60 762) scale(.93 1)" font-size="10" fill="#000" stroke="#000" stroke-width="0.2" text-anchor="start" font-weight="normal">27 Jun 2018</text>
<rect x="124" y="749" width="1" height="3" fill="#000"/>
<text transform="translate(124 762) scale(.93 1)" font-size="10" fill="#000" stroke="#000" stroke-width="0.2" text-anchor="start" font-weight="normal">6 Jul 2018</text>
<rect x="188" y="749" width="1" height="3" fill="#000"/>
<text transform="translate(188 762) scale(.93 1)" font-size="10" fill="#000" stroke="#000" stroke-width="0.2" text-anchor="start" font-weight="normal">16 Jul 2018</text>
<rect x="252" y="749" width="1" height="3" fill="#000"/>
<text transform="translate(252 762) scale(.93 1)" font-size="10" fill="#000" stroke="#000" stroke-width="0.2" text-anchor="start" font-weight="normal">25 Jul 2018</text>
<rect x="316" y="749" width="1" height="3" fill="#000"/>
<text transform="translate(316 762) scale(.93 1)" font-size="10" fill="#000" stroke="#000" stroke-width="0.2" text-anchor="start" font-weight="normal">3 Aug 2018</text>
<rect x="380" y="749" width="1" height="3" fill="#000"/>
<text transform="translate(380 762) scale(.93 1)" font-size="10" fill="#000" stroke="#000" stroke-width="0.2" text-anchor="start" font-weight="normal">13 Aug 2018</text>
<rect x="444" y="749" width="1" height="3" fill="#000"/>
<text transform="translate(444 762) scale(.93 1)" font-size="10" fill="#000" stroke="#000" stroke-width="0.2" text-anchor="start" font-weight="normal">22 Aug 2018</text>
<rect x="508" y="749" width="1" height="3" fill="#000"/>
<text transform="translate(508 762) scale(.93 1)" font-size="10" fill="#000" stroke="#000" stroke-width="0.2" text-anchor="start" font-weight="normal">31 Aug 2018</text>
<rect x="572" y="749" width="1" height="3" fill="#000"/>
<text transform="translate(572 762) scale(.93 1)" font-size="10" fill="#000" stroke="#000" stroke-width="0.2" text-anchor="start" font-weight="normal">10 Sep 2018</text>
<rect x="636" y="749" width="1" height="3" fill="#000"/>
<text transform="translate(636 762) scale(.93 1)" font-size="10" fill="#000" stroke="#000" stroke-width="0.2" text-anchor="start" font-weight="normal">19 Sep 2018</text>
<rect x="700" y="749" width="1" height="3" fill="#000"/>
<text transform="translate(700 762) scale(.93 1)" font-size="10" fill="#000" stroke="#000" stroke-width="0.2" text-anchor="start" font-weight="normal">28 Sep 2018</text>
<rect x="764" y="749" width="1" height="3" fill="#000"/>
<text transform="translate(764 762) scale(.93 1)" font-size="10" fill="#000" stroke="#000" stroke-width="0.2" text-anchor="start" font-weight="normal">12 Oct 2018</text>
<rect x="828" y="749" width="1" height="3" fill="#000"/>
<text transform="translate(828 762) scale(.93 1)" font-size="10" fill="#000" stroke="#000" stroke-width="0.2" text-anchor="start" font-weight="normal">22 Oct 2018</text>
<rect x="892" y="749" width="1" height="3" fill="#000"/>
<text transform="translate(892 762) scale(.93 1)" font-size="10" fill="#000" stroke="#000" stroke-width="0.2" text-anchor="start" font-weight="normal">31 Oct 2018</text>
<rect x="956" y="749" width="1" height="3" fill="#000"/>
<text transform="translate(956 762) scale(.93 1)" font-size="10" fill="#000" stroke="#000" stroke-width="0.2" text-anchor="start" font-weight="normal">9 Nov 2018</text>
<rect x="1020" y="749" width="1" height="3" fill="#000"/>
<text transform="translate(1020 762) scale(.93 1)" font-size="10" fill="#000" stroke="#000" stroke-width="0.2" text-anchor="start" font-weight="normal">19 Nov 2018</text>
<rect x="1084" y="749" width="1" height="3" fill="#000"/>
<text transform="translate(1084 762) scale(.93 1)" font-size="10" fill="#000" stroke="#000" stroke-width="0.2" text-anchor="start" font-weight="normal">28 Nov 2018</text>
<rect x="1148" y="749" width="1" height="3" fill="#000"/>
<text transform="translate(1148 762) scale(.93 1)" font-size="10" fill="#000" stroke="#000" stroke-width="0.2" text-anchor="start" font-weight="normal">10 Dec 2018</text>
<rect x="0" y="0" width="1624" height="21" fill="#f0f0f0"/>
<rect x="0" y="21" width="1624" height="1" fill="#a0a0a0"/>
<rect x="0" y="22" width="1624" height="1" fill="#696969"/>
<rect x="0" y="23" width="1624" height="2" fill="#fff"/>
<text x="-4.5" y="11.5" font-size="13" fill="#000" style="font-family:'Liberation Sans','Noto Sans CJK SC',sans-serif">单</text>
<polygon points="20,10.6 27.6,14.4 35.8,9 35.9,11 27.8,16.8 20,12.6" fill="#b98524"/>
<polygon points="25.3,2.3 35.8,9.2 27.6,14.6 20,10.8" fill="#f1c63a" stroke="#b07c1c" stroke-width="0.8"/>
<polygon points="25.8,3.6 31,7 24.5,11.2 21.5,10" fill="#f8dd70" opacity="0.8"/>
<polygon points="48,7 62,7 56,16.5 53,16.5" fill="#f2d64a" stroke="#d0a820" stroke-width="0.6"/>
<ellipse cx="55" cy="6.5" rx="8" ry="2.6" fill="#4aa3d6"/><ellipse cx="55" cy="4.2" rx="4" ry="3" fill="#62b4e2"/>
<circle cx="59.5" cy="12.5" r="4" fill="#e2200c"/><rect x="58" y="11" width="3" height="3" fill="#fff"/>
<text x="68.7" y="12.1" font-size="13" fill="#000" textLength="46.6" lengthAdjust="spacingAndGlyphs" style="font-family:'Liberation Sans','Noto Sans CJK SC',sans-serif">自动交易</text>
<rect x="123" y="0" width="1" height="20" fill="#a0a0a0"/>
<rect x="127" y="1" width="3" height="1" fill="#b0b0b0"/>
<rect x="127" y="3" width="3" height="1" fill="#b0b0b0"/>
<rect x="127" y="5" width="3" height="1" fill="#b0b0b0"/>
<rect x="127" y="7" width="3" height="1" fill="#b0b0b0"/>
<rect x="127" y="9" width="3" height="1" fill="#b0b0b0"/>
<rect x="127" y="11" width="3" height="1" fill="#b0b0b0"/>
<rect x="127" y="13" width="3" height="1" fill="#b0b0b0"/>
<rect x="127" y="15" width="3" height="1" fill="#b0b0b0"/>
<rect x="127" y="17" width="3" height="1" fill="#b0b0b0"/>
<rect x="141" y="3" width="1" height="14" fill="#505050"/>
<rect x="139" y="14" width="14" height="1" fill="#505050"/>
<polygon points="140,5 141.5,2.5 143,5" fill="#505050"/>
<polygon points="151,13 153.5,14.5 151,16" fill="#505050"/>
<rect x="147" y="5" width="1" height="7" fill="#1a9a1a"/>
<rect x="148" y="5" width="2" height="1" fill="#1a9a1a"/>
<rect x="145" y="11" width="2" height="1" fill="#1a9a1a"/>
<rect x="147" y="4" width="2" height="1" fill="#1a9a1a"/>
<rect x="161" y="0" width="26" height="20" fill="#fafafa"/>
<rect x="161" y="0" width="1" height="20" fill="#a0a0a0"/>
<rect x="169" y="3" width="1" height="14" fill="#505050"/>
<rect x="167" y="14" width="14" height="1" fill="#505050"/>
<polygon points="168,5 169.5,2.5 171,5" fill="#505050"/>
<polygon points="179,13 181.5,14.5 179,16" fill="#505050"/>
<rect x="175" y="1" width="1" height="12" fill="#107010"/>
<rect x="173" y="3" width="5" height="8" fill="#107010"/>
<rect x="174" y="4" width="3" height="6" fill="#22cc22"/>
<rect x="197" y="3" width="1" height="14" fill="#505050"/>
<rect x="195" y="14" width="14" height="1" fill="#505050"/>
<polygon points="196,5 197.5,2.5 199,5" fill="#505050"/>
<polygon points="207,13 209.5,14.5 207,16" fill="#505050"/>
<path d="M196.5,11.5 Q200,5 202,6.5 T207.5,10.5" fill="none" stroke="#1a9a1a" stroke-width="1.2"/>
<rect x="218" y="0" width="1" height="20" fill="#a0a0a0"/>
<line x1="236.0" y1="10.5" x2="241.5" y2="15.5" stroke="#c8a020" stroke-width="2.6" stroke-linecap="round"/>
<circle cx="232.5" cy="7" r="5" fill="#d6e8fa" stroke="#3c7cc8" stroke-width="1.2"/>
<rect x="229.5" y="6.2" width="6" height="1.6" fill="#3c7cc8"/>
<rect x="231.7" y="4" width="1.6" height="6" fill="#3c7cc8"/>
<line x1="264.5" y1="10.5" x2="270" y2="15.5" stroke="#c8a020" stroke-width="2.6" stroke-linecap="round"/>
<circle cx="261" cy="7" r="5" fill="#d6e8fa" stroke="#3c7cc8" stroke-width="1.2"/>
<rect x="258" y="6.2" width="6" height="1.6" fill="#3c7cc8"/>
<rect x="283" y="1" width="7.5" height="7.5" fill="#2f9e2f"/>
<rect x="284" y="3.5" width="5.5" height="4" fill="#eef4ff"/>
<rect x="285" y="5" width="3.5" height="1" fill="#2f9e2f"/>
<rect x="291.5" y="1" width="7.5" height="7.5" fill="#1f4fc0"/>
<rect x="292.5" y="3.5" width="5.5" height="4" fill="#eef4ff"/>
<rect x="293.5" y="5" width="3.5" height="1" fill="#1f4fc0"/>
<rect x="283" y="9" width="7.5" height="7.5" fill="#1f4fc0"/>
<rect x="284" y="11.5" width="5.5" height="4" fill="#eef4ff"/>
<rect x="285" y="13" width="3.5" height="1" fill="#1f4fc0"/>
<rect x="291.5" y="9" width="7.5" height="7.5" fill="#2f9e2f"/>
<rect x="292.5" y="11.5" width="5.5" height="4" fill="#eef4ff"/>
<rect x="293.5" y="13" width="3.5" height="1" fill="#2f9e2f"/>
<rect x="308" y="0" width="1" height="20" fill="#a0a0a0"/>
<rect x="313" y="0" width="25" height="20" fill="#fafafa"/>
<rect x="313" y="0" width="1" height="20" fill="#a0a0a0"/>
<rect x="321" y="3" width="1" height="14" fill="#505050"/>
<rect x="319" y="14" width="14" height="1" fill="#505050"/>
<polygon points="320,5 321.5,2.5 323,5" fill="#505050"/>
<polygon points="331,13 333.5,14.5 331,16" fill="#505050"/>
<polygon points="326.5,6 330.5,9 326.5,12" fill="#35c035" stroke="#1a8a1a" stroke-width="1"/>
<rect x="341" y="0" width="25" height="20" fill="#fafafa"/>
<rect x="341" y="0" width="1" height="20" fill="#a0a0a0"/>
<rect x="349" y="3" width="1" height="14" fill="#505050"/>
<rect x="347" y="14" width="14" height="1" fill="#505050"/>
<polygon points="348,5 349.5,2.5 351,5" fill="#505050"/>
<polygon points="359,13 361.5,14.5 359,16" fill="#505050"/>
<rect x="355" y="3" width="1" height="10" fill="#2060c0"/>
<rect x="357" y="8" width="5" height="1" fill="#e04010"/>
<polygon points="356,8.5 359,6 359,11" fill="#e04010"/>
<rect x="370" y="0" width="1" height="20" fill="#a0a0a0"/>
<path d="M382.5,3 h6 l3,3 v9 h-9 z" fill="#f4f4f4" stroke="#a8a8a8" stroke-width="0.8"/>
<path d="M380.5,1.5 h6.5 l4,4 v9 h-10.5 z" fill="#fdfdfd" stroke="#8c8c8c" stroke-width="1"/>
<path d="M387,1.5 v4 h4" fill="#e4e4e4" stroke="#8c8c8c" stroke-width="0.8"/>
<path d="M384.5,4.5 q-1.5,0 -1.5,1.5 v1.5 q0,1 -1,1 q1,0 1,1 v1.5 q0,1.5 1.5,1.5" stroke="#686868" stroke-width="0.9" fill="none"/>
<path d="M388.2,7 h4 v3.8 h3.8 v4 h-3.8 v3.8 h-4 v-3.8 h-3.8 v-4 h3.8 z" fill="#25cf25" stroke="#0b8a0b" stroke-width="0.9"/>
<path d="M389,7.8 h2.4 M385.2,11.6 h3.2" stroke="#8df08d" stroke-width="0.8" fill="none"/>
<polygon points="402,8 407,8 404.5,11" fill="#000"/>
<defs><linearGradient id="ck" x1="0" y1="0" x2="0.6" y2="1"><stop offset="0" stop-color="#58a4ee"/><stop offset="1" stop-color="#0f469c"/></linearGradient></defs>
<circle cx="426" cy="8.8" r="6.7" fill="#fbfdff" stroke="url(#ck)" stroke-width="2.7"/>
<path d="M425.5,4.8 v4.2 h3.4" stroke="#303030" stroke-width="1.2" fill="none"/>
<circle cx="430.60" cy="8.80" r="0.35" fill="#8aa0c0"/>
<circle cx="429.98" cy="11.10" r="0.35" fill="#8aa0c0"/>
<circle cx="428.30" cy="12.78" r="0.35" fill="#8aa0c0"/>
<circle cx="426.00" cy="13.40" r="0.35" fill="#8aa0c0"/>
<circle cx="423.70" cy="12.78" r="0.35" fill="#8aa0c0"/>
<circle cx="422.02" cy="11.10" r="0.35" fill="#8aa0c0"/>
<circle cx="421.40" cy="8.80" r="0.35" fill="#8aa0c0"/>
<circle cx="422.02" cy="6.50" r="0.35" fill="#8aa0c0"/>
<circle cx="423.70" cy="4.82" r="0.35" fill="#8aa0c0"/>
<circle cx="426.00" cy="4.20" r="0.35" fill="#8aa0c0"/>
<circle cx="428.30" cy="4.82" r="0.35" fill="#8aa0c0"/>
<circle cx="429.98" cy="6.50" r="0.35" fill="#8aa0c0"/>
<polygon points="441,8 446,8 443.5,11" fill="#000"/>
<rect x="458.5" y="3.5" width="15" height="13" fill="#c8c8c8" opacity="0.6"/>
<rect x="457.5" y="2.5" width="15" height="13" fill="#fff" stroke="#3468c4" stroke-width="1"/>
<rect x="458" y="3" width="14" height="2" fill="#5b8fdc"/>
<polyline points="459.5,8.5 461,8.5 462.5,7.5 464,7.5 465.5,6.5 467,7.5 468.5,7.5 470,6.5 471,6.5" fill="none" stroke="#a82814" stroke-width="1.1"/>
<rect x="458" y="10" width="14" height="1" fill="#3468c4"/>
<polyline points="460,13.5 461.5,13.5 463,12.5 464.5,13.5 466,12.5 467.5,11.5 469,12.5 470.5,13.5" fill="none" stroke="#189a18" stroke-width="1.1"/>
<polygon points="480,8 485,8 482.5,11" fill="#000"/>
<rect x="491" y="0" width="1" height="20" fill="#a0a0a0"/>
<rect x="495" y="1" width="3" height="1" fill="#b0b0b0"/>
<rect x="495" y="3" width="3" height="1" fill="#b0b0b0"/>
<rect x="495" y="5" width="3" height="1" fill="#b0b0b0"/>
<rect x="495" y="7" width="3" height="1" fill="#b0b0b0"/>
<rect x="495" y="9" width="3" height="1" fill="#b0b0b0"/>
<rect x="495" y="11" width="3" height="1" fill="#b0b0b0"/>
<rect x="495" y="13" width="3" height="1" fill="#b0b0b0"/>
<rect x="495" y="15" width="3" height="1" fill="#b0b0b0"/>
<rect x="495" y="17" width="3" height="1" fill="#b0b0b0"/>
<rect x="501" y="0" width="25" height="20" fill="#fafafa"/>
<rect x="501" y="0" width="1" height="20" fill="#a0a0a0"/>
<polygon points="509,2 509,13.5 511.8,11 514.2,16.2 516.4,15.2 514,10.2 517.6,10.2" fill="#404040"/>
<rect x="541" y="2" width="1" height="6" fill="#505050"/>
<rect x="541" y="11" width="1" height="6" fill="#505050"/>
<rect x="534" y="9" width="6" height="1" fill="#505050"/>
<rect x="543" y="9" width="6" height="1" fill="#505050"/>
<rect x="541" y="9" width="1" height="1" fill="#909090"/>
<rect x="558" y="0" width="1" height="20" fill="#a0a0a0"/>
<rect x="575" y="3" width="1" height="13" fill="#505050"/>
<rect x="598" y="9" width="12" height="1" fill="#505050"/>
<line x1="626" y1="15.5" x2="638" y2="4" stroke="#505050" stroke-width="1.1"/>
<line x1="652" y1="14.5" x2="662" y2="3.5" stroke="#505050" stroke-width="1"/>
<line x1="656" y1="14.5" x2="666" y2="3.5" stroke="#505050" stroke-width="1"/>
<line x1="653.0" y1="12.75" x2="660.0" y2="10.75" stroke="#505050" stroke-width="1"/>
<line x1="655.5" y1="10.0" x2="662.5" y2="8.0" stroke="#505050" stroke-width="1"/>
<line x1="658.0" y1="7.25" x2="665.0" y2="5.25" stroke="#505050" stroke-width="1"/>
<text x="662.5" y="18" font-size="6.5" font-weight="bold" fill="#404040">E</text>
<line x1="681" y1="2.5" x2="694" y2="2.5" stroke="#505050" stroke-width="1" stroke-dasharray="1 1"/>
<line x1="681" y1="5.5" x2="694" y2="5.5" stroke="#505050" stroke-width="1" stroke-dasharray="1 1"/>
<line x1="681" y1="9.5" x2="694" y2="9.5" stroke="#505050" stroke-width="1" stroke-dasharray="1 1"/>
<line x1="681" y1="13.5" x2="694" y2="13.5" stroke="#505050" stroke-width="1" stroke-dasharray="1 1"/>
<rect x="688" y="12" width="7" height="7" fill="#f0f0f0"/>
<text x="690.5" y="18" font-size="6.5" font-weight="bold" fill="#404040">F</text>
<text x="711.2" y="13.5" font-size="12" fill="#555" stroke="#555" stroke-width="0.35">A</text>
<rect x="737.5" y="2.5" width="12" height="13" fill="none" stroke="#505050" stroke-width="1" stroke-dasharray="1 1"/>
<text x="743.5" y="13.5" font-size="11.5" font-weight="bold" fill="#606060" text-anchor="middle">T</text>
<polygon points="768.5,3 771.5,6 768.5,9 765.5,6" fill="#404040"/>
<polygon points="775.5,10 778.5,13 775.5,16 772.5,13" fill="#404040"/>
<polyline points="768,10.5 770,12.5 774,7" fill="none" stroke="#404040" stroke-width="1.2"/>
<polygon points="786,8 791,8 788.5,11" fill="#000"/>
<rect x="797" y="0" width="1" height="20" fill="#a0a0a0"/>
<rect x="801" y="1" width="3" height="1" fill="#b0b0b0"/>
<rect x="801" y="3" width="3" height="1" fill="#b0b0b0"/>
<rect x="801" y="5" width="3" height="1" fill="#b0b0b0"/>
<rect x="801" y="7" width="3" height="1" fill="#b0b0b0"/>
<rect x="801" y="9" width="3" height="1" fill="#b0b0b0"/>
<rect x="801" y="11" width="3" height="1" fill="#b0b0b0"/>
<rect x="801" y="13" width="3" height="1" fill="#b0b0b0"/>
<rect x="801" y="15" width="3" height="1" fill="#b0b0b0"/>
<rect x="801" y="17" width="3" height="1" fill="#b0b0b0"/>
<rect x="975" y="0" width="26" height="20" fill="#fafafa"/>
<rect x="975" y="0" width="1" height="20" fill="#a0a0a0"/>
<text x="819.0" y="13" font-size="9.5" fill="#3c3c3c" text-anchor="middle">M1</text>
<text x="847.0" y="13" font-size="9.5" fill="#3c3c3c" text-anchor="middle">M5</text>
<text x="875.1" y="13" font-size="9.5" fill="#3c3c3c" text-anchor="middle">M15</text>
<text x="903.1" y="13" font-size="9.5" fill="#3c3c3c" text-anchor="middle">M30</text>
<text x="931.2" y="13" font-size="9.5" fill="#3c3c3c" text-anchor="middle">H1</text>
<text x="959.2" y="13" font-size="9.5" fill="#3c3c3c" text-anchor="middle">H4</text>
<text x="987.3" y="13" font-size="9.5" fill="#3c3c3c" text-anchor="middle">D1</text>
<text x="1015.4" y="13" font-size="9.5" fill="#3c3c3c" text-anchor="middle">W1</text>
<text x="1043.4" y="13" font-size="9.5" fill="#3c3c3c" text-anchor="middle">MN</text>
<rect x="1058" y="0" width="1" height="20" fill="#a0a0a0"/>
<line x1="1577" y1="14" x2="1581.5" y2="9.5" stroke="#2a5ed0" stroke-width="2.2" stroke-linecap="round"/>
<circle cx="1584.5" cy="6.5" r="3.8" fill="#f4f4f4" stroke="#2a5ed0" stroke-width="1.3"/>
<ellipse cx="1617" cy="6" rx="6" ry="4.6" fill="#fbfbfd" stroke="#a4a4a8" stroke-width="1"/><polygon points="1619,10 1621,12.5 1621.5,9.5" fill="#909090"/>
<ellipse cx="1608" cy="10.5" rx="5" ry="4" fill="#f8f8fa" stroke="#a4a4a8" stroke-width="1"/><polygon points="1605,14 1605.5,16 1607.5,14.3" fill="#909090"/>
<polygon points="0,36 3,32.5 6,36" fill="#000"/>
<text transform="translate(0 37) scale(.93 1)" font-size="10" fill="#000" stroke="#000" stroke-width="0.2" xml:space="preserve"><tspan x="12.37" textLength="48.93" lengthAdjust="spacingAndGlyphs">DJ30,Daily</tspan><tspan x="67.74">24604.0</tspan><tspan x="106.66">24694.0</tspan><tspan x="145.49">24482.0</tspan><tspan x="184.29">24583.0</tspan></text>
<defs><linearGradient id="bg" x1="0" y1="45" x2="0" y2="109" gradientUnits="userSpaceOnUse"><stop offset="0" stop-color="#5656fa"/><stop offset="0.38" stop-color="#3434e0"/><stop offset="1" stop-color="#0000a4"/></linearGradient></defs>
<rect x="0" y="45" width="51" height="25" fill="url(#bg)"/>
<rect x="166" y="45" width="52" height="25" fill="url(#bg)"/>
<rect x="0" y="69" width="108" height="40" fill="url(#bg)"/>
<rect x="110" y="69" width="108" height="40" fill="url(#bg)"/>
<rect x="3" y="68" width="44" height="1" fill="#2020b8"/>
<rect x="3" y="69" width="44" height="1" fill="#7474f4"/>
<rect x="170" y="68" width="44" height="1" fill="#2020b8"/>
<rect x="170" y="69" width="44" height="1" fill="#7474f4"/>
<rect x="53" y="45" width="111" height="22" fill="#ababab"/>
<rect x="54" y="46" width="109" height="20" fill="#fff"/>
<rect x="54" y="46" width="20" height="20" fill="#e9e9e9"/>
<rect x="74" y="46" width="1" height="20" fill="#ababab"/>
<rect x="143" y="46" width="20" height="20" fill="#e9e9e9"/>
<rect x="142" y="46" width="1" height="20" fill="#ababab"/>
<polygon points="60.5,54 66.5,54 63.5,57.5" fill="#000"/>
<polygon points="150,57.5 156,57.5 153,54" fill="#000"/>
<text x="138.5" y="60.4" font-size="12" fill="#000" text-anchor="end">0.10</text>
<text x="11.5" y="61" font-size="12" fill="#fff" textLength="25.5" lengthAdjust="spacingAndGlyphs">SELL</text>
<text x="179.5" y="61" font-size="12" fill="#fff" textLength="23" lengthAdjust="spacingAndGlyphs">BUY</text>
<text x="15.3" y="100" font-size="12" font-weight="bold" fill="#fff" textLength="34.5" lengthAdjust="spacingAndGlyphs">24583</text>
<text x="125.3" y="100" font-size="12" font-weight="bold" fill="#fff" textLength="34.5" lengthAdjust="spacingAndGlyphs">24589</text>
<text x="53" y="100.5" font-size="36" fill="#fff" textLength="25" lengthAdjust="spacingAndGlyphs">.0</text>
<text x="164" y="100.5" font-size="36" fill="#fff" textLength="25" lengthAdjust="spacingAndGlyphs">.0</text>
</svg>
</body></html>
